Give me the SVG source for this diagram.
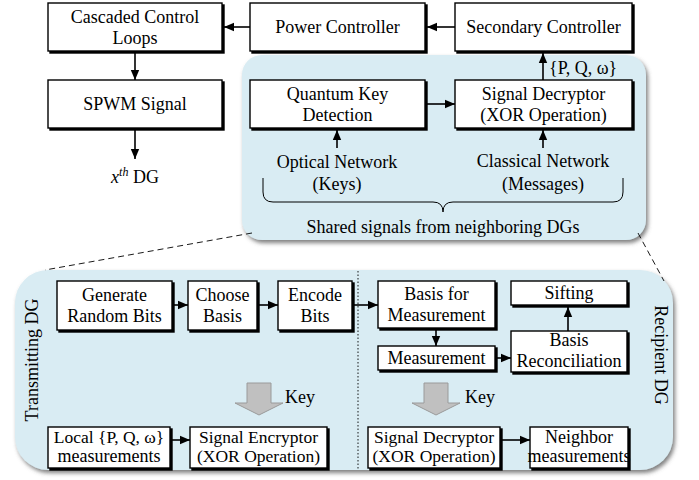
<svg xmlns="http://www.w3.org/2000/svg" width="699" height="480" viewBox="0 0 699 480">
<defs>
<marker id="ah" markerUnits="userSpaceOnUse" markerWidth="10" markerHeight="10" refX="10" refY="5" orient="auto">
<path d="M0,0.8 L10,5 L0,9.2 z" fill="#000"/>
</marker>
<filter id="bs" x="-10%" y="-10%" width="130%" height="140%">
<feDropShadow dx="2" dy="2" stdDeviation="0.4" flood-color="#000" flood-opacity="1"/>
</filter>
<filter id="ps" x="-5%" y="-5%" width="115%" height="120%">
<feDropShadow dx="2" dy="3" stdDeviation="2.2" flood-color="#555" flood-opacity="0.75"/>
</filter>
</defs>
<style>
text{font-family:"Liberation Serif","Times New Roman",serif;font-size:18px;fill:#000}
.c{text-anchor:middle}
.s{font-size:17.5px}
.box{fill:#fff;stroke:#000;stroke-width:1.4;filter:url(#bs)}
.panel{fill:#d9ecf3;filter:url(#ps)}
.ar{stroke:#000;stroke-width:1.6;fill:none;marker-end:url(#ah)}
.dash{stroke:#000;stroke-width:0.9;fill:none;stroke-dasharray:6 4}
.blk{fill:#c0c0c0;stroke:#9a9a9a;stroke-width:1}
</style>
<rect width="699" height="480" fill="#fff"/>

<g id="panels">
<rect class="panel" x="242" y="55" width="404" height="185" rx="20"/>
<rect class="panel" x="15" y="270" width="658" height="200" rx="33"/>
<path d="M252,233 L45,270" class="dash"/>
<path d="M638,233 L664,281" class="dash"/>
<path d="M358,271 L358,470" stroke="#000" stroke-width="0.9" stroke-dasharray="1.5 2" fill="none"/>
<path d="M263,178 L263,192 Q263,202 273,202 L433,202 Q443,202 443,212 Q443,202 453,202 L613,202 Q623,202 623,192 L623,178" stroke="#000" stroke-width="1" fill="none"/>
</g>

<g id="n-cascaded"><rect class="box" x="48" y="3" width="174" height="48"/><text class="c" x="135" y="22.5">Cascaded Control</text><text class="c" x="135" y="43.5">Loops</text></g>
<g id="n-power"><rect class="box" x="250" y="3" width="175" height="48"/><text class="c" x="337.5" y="33">Power Controller</text></g>
<g id="n-secondary"><rect class="box" x="455" y="3" width="177" height="48"/><text class="c" x="543.5" y="33">Secondary Controller</text></g>
<g id="n-spwm"><rect class="box" x="48" y="80" width="174" height="48"/><text class="c" x="135" y="110">SPWM Signal</text></g>
<g id="n-xdg"><text class="c" x="135" y="183"><tspan font-style="italic">x</tspan><tspan font-style="italic" font-size="12" dy="-7">th</tspan><tspan dy="7"> DG</tspan></text></g>
<g id="n-qkd"><rect class="box" x="250" y="80" width="175" height="48"/><text class="c" x="337.5" y="99.5">Quantum Key</text><text class="c" x="337.5" y="120.5">Detection</text></g>
<g id="n-decryptor-top"><rect class="box" x="455" y="80" width="177" height="48"/><text class="c" x="543.5" y="99.5">Signal Decryptor</text><text class="c" x="543.5" y="120.5">(XOR Operation)</text></g>
<g id="n-pqw"><text x="549" y="74">{P, Q, ω}</text></g>
<g id="n-optical"><text class="c" x="337" y="168">Optical Network</text><text class="c" x="337" y="190">(Keys)</text></g>
<g id="n-classical"><text class="c" x="543" y="167">Classical Network</text><text class="c" x="543" y="190">(Messages)</text></g>
<g id="n-shared"><text class="c" x="443" y="233">Shared signals from neighboring DGs</text></g>

<g id="n-generate"><rect class="box" x="57" y="281" width="115" height="49"/><text class="c" x="114.5" y="301">Generate</text><text class="c" x="114.5" y="322">Random Bits</text></g>
<g id="n-choose"><rect class="box" x="188" y="281" width="69" height="49"/><text class="c" x="222.5" y="301">Choose</text><text class="c" x="222.5" y="322">Basis</text></g>
<g id="n-encode"><rect class="box" x="278" y="281" width="74" height="49"/><text class="c" x="315" y="301">Encode</text><text class="c" x="315" y="322">Bits</text></g>
<g id="n-basismeas"><rect class="box" x="378" y="281" width="117" height="47"/><text class="c" x="436.5" y="300">Basis for</text><text class="c" x="436.5" y="321">Measurement</text></g>
<g id="n-sifting"><rect class="box" x="511" y="281" width="116" height="24"/><text class="c" x="569" y="299">Sifting</text></g>
<g id="n-measurement"><rect class="box" x="378" y="346" width="117" height="24"/><text class="c" x="436.5" y="364">Measurement</text></g>
<g id="n-recon"><rect class="box" x="511" y="331" width="116" height="41"/><text class="c" x="569" y="346">Basis</text><text class="c" x="569" y="367">Reconciliation</text></g>
<g id="n-local"><rect class="box" x="48" y="427" width="122" height="41"/><text class="c s" x="109" y="442.5">Local {P, Q, ω}</text><text class="c" x="109" y="462" font-size="15.5">measurements</text></g>
<g id="n-encryptor"><rect class="box" x="190" y="427" width="137" height="41"/><text class="c s" x="258.5" y="442.5">Signal Encryptor</text><text class="c s" x="258.5" y="462">(XOR Operation)</text></g>
<g id="n-decryptor-bot"><rect class="box" x="368" y="427" width="132" height="41"/><text class="c s" x="434" y="442.5">Signal Decryptor</text><text class="c s" x="434" y="462">(XOR Operation)</text></g>
<g id="n-neighbor"><rect class="box" x="530" y="427" width="98" height="41"/><text class="c" x="579" y="442.5" font-size="17">Neighbor</text><text class="c" x="579" y="462" font-size="14.5">measurements</text></g>
<g id="n-transmitting"><text class="c" transform="translate(38,360) rotate(-90)" font-size="17">Transmitting DG</text></g>
<g id="n-recipient"><text class="c" transform="translate(655,355) rotate(90)" font-size="17">Recipient DG</text></g>
<g id="n-key1"><polygon class="blk" points="247,383 271,383 271,403 283,403 259,415 235,403 247,403"/><text x="285" y="403">Key</text></g>
<g id="n-key2"><polygon class="blk" points="424,383 448,383 448,403 460,403 436,415 412,403 424,403"/><text x="465" y="403">Key</text></g>

<g id="connectors">
<path class="ar" d="M250,27 L224,27"/>
<path class="ar" d="M455,27 L427,27"/>
<path class="ar" d="M135,53 L135,80"/>
<path class="ar" d="M135,130 L135,159"/>
<path class="ar" d="M427,104 L455,104"/>
<path class="ar" d="M543,80 L543,53"/>
<path class="ar" d="M337,148 L337,130"/>
<path class="ar" d="M543,148 L543,130"/>
<path class="ar" d="M174,305 L188,305"/>
<path class="ar" d="M259,305 L278,305"/>
<path class="ar" d="M354,305 L378,305"/>
<path class="ar" d="M436,330 L436,346"/>
<path class="ar" d="M497,358 L511,358"/>
<path class="ar" d="M568,331 L568,307"/>
<path class="ar" d="M172,440 L190,440"/>
<path class="ar" d="M502,440 L530,440"/>
</g>
</svg>
